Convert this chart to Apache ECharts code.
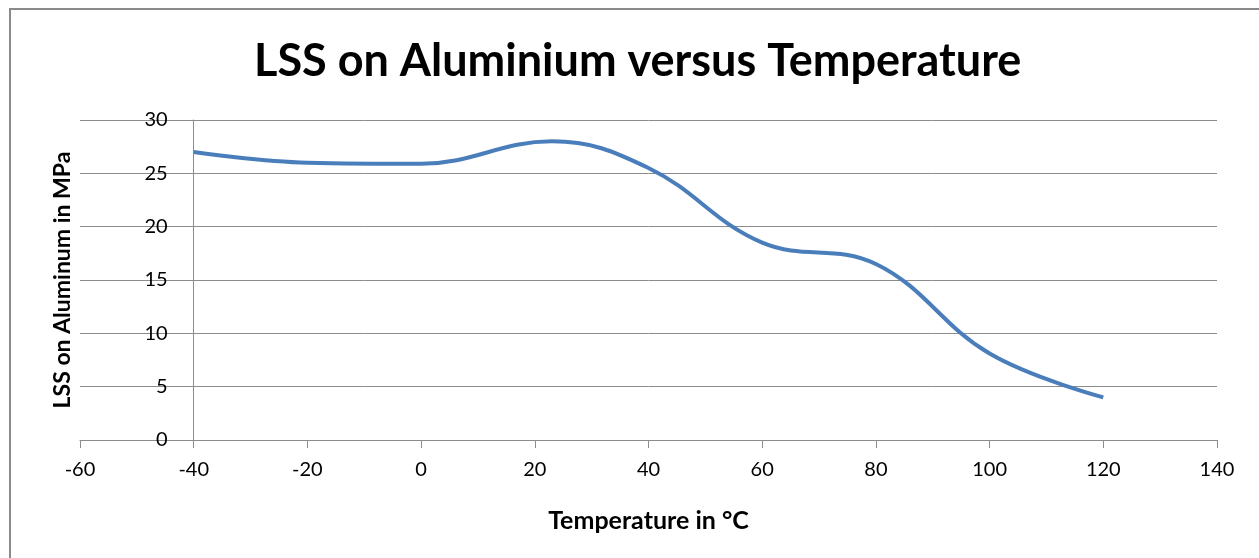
<!DOCTYPE html>
<html>
<head>
<meta charset="utf-8">
<script src="https://cdn.jsdelivr.net/npm/echarts@6/dist/echarts.min.js"></script>
<style>html,body{margin:0;padding:0;background:#fff}#c{width:1259px;height:558px}</style>
</head>
<body>
<div id="c"></div>
<script>
const temperatures = [-40, -20, 0, 23, 40, 60, 80, 100, 120];
const lssValues = [27, 26, 25.9, 28, 25.5, 18.5, 16.5, 8.1, 4];
const xTicks = { min: -60, max: 140, interval: 20 };
const yTicks = { min: 0, max: 30, interval: 5 };
const titleText = 'LSS on Aluminium versus Temperature';
const xName = 'Temperature in °C';
const yName = 'LSS on Aluminum in MPa';

const chart = echarts.init(document.getElementById('c'));
const FONT = 'Lato';
const gridLeft = 80, gridRight = 42;
const plotW = 1259 - gridLeft - gridRight;
const yAxisOffset = -(plotW * (-40 - xTicks.min) / (xTicks.max - xTicks.min));

chart.setOption({
  animation: false,
  backgroundColor: '#fff',
  title: {
    text: titleText, left: 249, top: 34,
    textStyle: { fontFamily: FONT, fontWeight: 'bold', fontSize: 45, color: '#000' }
  },
  graphic: [{
    type: 'rect', shape: { x: 10, y: 9, width: 1400, height: 700 },
    style: { fill: 'none', stroke: '#8a8a8a', lineWidth: 2 }
  }],
  grid: { left: gridLeft, right: gridRight, top: 120, bottom: 118 },
  xAxis: {
    type: 'value', min: xTicks.min, max: xTicks.max, interval: xTicks.interval,
    name: xName, nameLocation: 'middle', nameGap: 68,
    nameTextStyle: { fontFamily: FONT, fontWeight: 'bold', fontSize: 25, color: '#000' },
    axisLine: { show: true, onZero: false, lineStyle: { color: '#8c8c8c', width: 1 } },
    axisTick: { show: true, inside: false, length: 8, lineStyle: { color: '#8c8c8c' } },
    axisLabel: { fontFamily: FONT, fontSize: 20, color: '#000', margin: 20 },
    splitLine: { show: false }
  },
  yAxis: {
    type: 'value', min: yTicks.min, max: yTicks.max, interval: yTicks.interval,
    offset: yAxisOffset,
    name: yName, nameLocation: 'middle', nameGap: 120, nameRotate: 90,
    nameTextStyle: { fontFamily: FONT, fontWeight: 'bold', fontSize: 23, color: '#000' },
    axisLine: { show: true, onZero: false, lineStyle: { color: '#8c8c8c', width: 1 } },
    axisTick: { show: false },
    axisLabel: { fontFamily: FONT, fontSize: 20, color: '#000', margin: 26 },
    splitLine: { show: true, lineStyle: { color: '#8c8c8c', width: 1 } }
  },
  series: [{
    type: 'line',
    data: temperatures.map((t, i) => [t, lssValues[i]]),
    smooth: 0.4,
    symbol: 'none',
    lineStyle: { color: '#4A7EBB', width: 4 }
  }]
});
</script>
</body>
</html>
